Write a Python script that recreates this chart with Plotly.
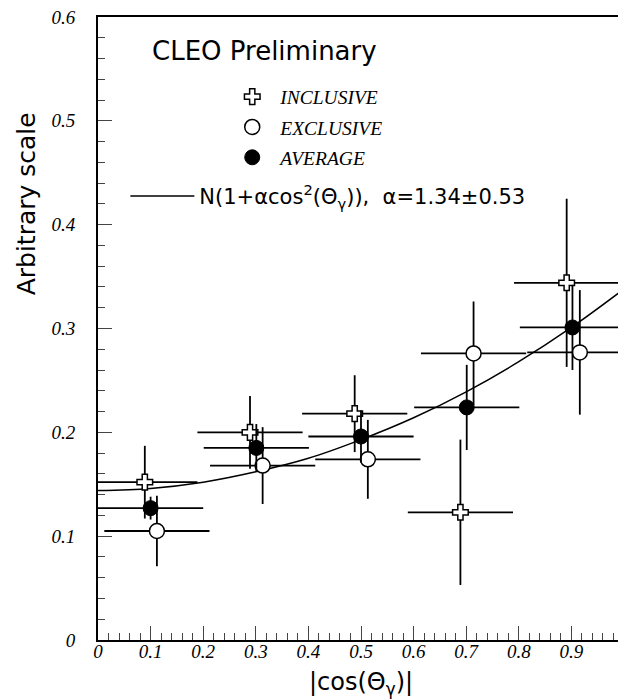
import plotly.graph_objects as go

# ---- data ----
inc_x = [0.089, 0.289, 0.488, 0.689, 0.891]
inc_y = [0.152, 0.200, 0.218, 0.123, 0.344]
inc_ey = [0.035, 0.035, 0.037, 0.070, 0.081]

exc_x = [0.112, 0.313, 0.513, 0.714, 0.916]
exc_y = [0.105, 0.168, 0.174, 0.276, 0.277]
exc_ey = [0.034, 0.037, 0.038, 0.050, 0.060]

avg_x = [0.100, 0.301, 0.500, 0.701, 0.902]
avg_y = [0.127, 0.185, 0.196, 0.224, 0.301]
avg_ey = [0.011, 0.023, 0.025, 0.041, 0.041]

x_half_width = 0.1

fit_x = [0.0, 0.1, 0.2, 0.3, 0.4, 0.5, 0.6, 0.7, 0.8, 0.9, 1.0]
fit_y = [0.144, 0.146, 0.152, 0.162, 0.175, 0.193, 0.214, 0.239, 0.268, 0.301, 0.338]

x_ticks = [0, 0.1, 0.2, 0.3, 0.4, 0.5, 0.6, 0.7, 0.8, 0.9, 1]
x_tick_labels = ["0", "0.1", "0.2", "0.3", "0.4", "0.5", "0.6", "0.7", "0.8", "0.9", "1"]
y_ticks = [0, 0.1, 0.2, 0.3, 0.4, 0.5, 0.6]
y_tick_labels = ["0", "0.1", "0.2", "0.3", "0.4", "0.5", "0.6"]

SERIF = "Liberation Serif"
SANS = "DejaVu Sans"

def ebar_x():
    return dict(type="constant", value=x_half_width, color="black", thickness=1.8, width=0)

def ebar_y(arr):
    return dict(type="data", array=arr, color="black", thickness=1.8, width=0)

fig = go.Figure()

fig.add_trace(go.Scatter(
    x=fit_x, y=fit_y, mode="lines", line=dict(color="black", width=1.5, shape="spline"),
    name="N(1+αcos<sup>2</sup>(Θ<sub>γ</sub>)),  α=1.34±0.53",
    legend="legend2", showlegend=True,
))

fig.add_trace(go.Scatter(
    x=inc_x, y=inc_y, mode="markers", name="INCLUSIVE",
    error_x=ebar_x(), error_y=ebar_y(inc_ey),
    marker=dict(symbol="cross", size=13, color="white", line=dict(color="black", width=1.5)),
    legendgroup="a",
))
fig.add_trace(go.Scatter(
    x=exc_x, y=exc_y, mode="markers", name="EXCLUSIVE",
    error_x=ebar_x(), error_y=ebar_y(exc_ey),
    marker=dict(symbol="circle", size=15, color="white", line=dict(color="black", width=1.5)),
    legendgroup="b",
))
fig.add_trace(go.Scatter(
    x=avg_x, y=avg_y, mode="markers", name="AVERAGE",
    error_x=ebar_x(), error_y=ebar_y(avg_ey),
    marker=dict(symbol="circle", size=15, color="black", line=dict(color="black", width=1)),
    legendgroup="c",
))

axis_common = dict(
    showgrid=False, zeroline=False, showline=True, linecolor="black", linewidth=2,
    mirror=True, ticks="inside", ticklen=14, tickwidth=1.2, tickcolor="#444",
    tickfont=dict(family=SERIF, size=19, style="italic", color="black"),
    minor=dict(ticks="inside", ticklen=7, tickwidth=1.2, tickcolor="#444", dtick=0.02),
    ticklabeloverflow="allow", automargin=False,
)

fig.update_xaxes(range=[0, 1], tickvals=x_ticks, ticktext=x_tick_labels,
                 ticklabelstandoff=-7, **axis_common)
fig.update_yaxes(range=[0, 0.6], tickvals=y_ticks, ticktext=y_tick_labels,
                 ticklabelstandoff=17, **axis_common)

fig.update_layout(
    width=618, height=691,
    margin=dict(l=90, r=2, t=9, b=59),
    plot_bgcolor="white", paper_bgcolor="white",
    legend=dict(x=0.24, y=0.903, xanchor="left", yanchor="top", bgcolor="rgba(0,0,0,0)",
                font=dict(family=SERIF, size=19.5, style="italic", color="black"),
                tracegroupgap=2, itemsizing="trace", itemwidth=46),
    legend2=dict(x=0.052, y=0.745, xanchor="left", yanchor="top", bgcolor="rgba(0,0,0,0)",
                 font=dict(family=SANS, size=21, color="black"), itemwidth=64),
    annotations=[
        dict(text="CLEO Preliminary", x=0.099, y=0.945, xref="paper", yref="paper",
             xanchor="left", yanchor="middle", showarrow=False,
             font=dict(family=SANS, size=26, color="black")),
        dict(text="Arbitrary scale", x=-0.136, y=0.70, xref="paper", yref="paper",
             xanchor="center", yanchor="middle", textangle=-90, showarrow=False,
             font=dict(family=SANS, size=25, color="black")),
        dict(text="|cos(Θ<sub>γ</sub>)|", x=0.5, y=-0.042, xref="paper", yref="paper",
             xanchor="center", yanchor="top", showarrow=False,
             font=dict(family=SANS, size=24, color="black")),
    ],
)

fig.write_html("out.html")
